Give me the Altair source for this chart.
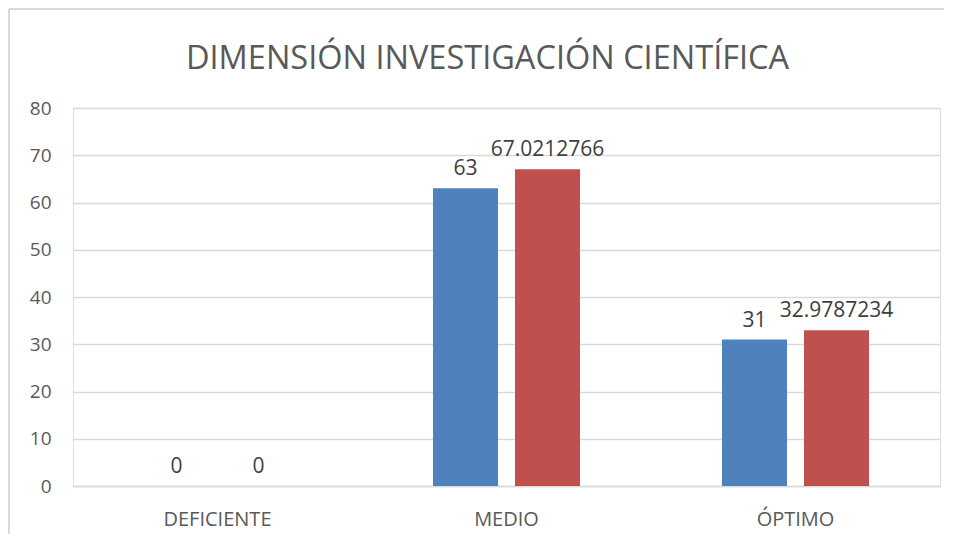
import altair as alt
import pandas as pd

categories = ["DEFICIENTE", "MEDIO", "ÓPTIMO"]
series_names = ["Frecuencia", "Porcentaje"]
freq_values = [0, 63, 31]
pct_values = [0, 67.0212766, 32.9787234]
freq_labels = ["0", "63", "31"]
pct_labels = ["0", "67.0212766", "32.9787234"]
y_ticks = [0, 10, 20, 30, 40, 50, 60, 70, 80]

rows = []
for i, c in enumerate(categories):
    rows.append({"cat": c, "serie": series_names[0], "value": freq_values[i], "label": freq_labels[i]})
    rows.append({"cat": c, "serie": series_names[1], "value": pct_values[i], "label": pct_labels[i]})
df = pd.DataFrame(rows)

W, H = 867, 378
FONT = "Open Sans"
TXT = "#595959"

x_enc = alt.X("cat:N", sort=categories, title=None,
              scale=alt.Scale(paddingInner=0, paddingOuter=0),
              axis=alt.Axis(labelAngle=0, labelFontSize=20, labelColor=TXT, labelFont=FONT,
                            ticks=False, domainColor="#d9d9d9", domainWidth=1.5,
                            labelPadding=23, labelBaseline="top"))
xo_enc = alt.XOffset("serie:N", sort=series_names,
                     scale=alt.Scale(paddingInner=0.207, paddingOuter=0.866))
y_enc = alt.Y("value:Q", title=None,
              scale=alt.Scale(domain=[0, 80], nice=False),
              axis=alt.Axis(values=y_ticks, labelFontSize=19, labelColor=TXT, labelFont=FONT,
                            ticks=False, domain=False, labelPadding=22,
                            gridColor="#d9d9d9", gridWidth=1.3))

base = alt.Chart(df)
bars = base.mark_bar().encode(
    x=x_enc, xOffset=xo_enc, y=y_enc,
    color=alt.Color("serie:N", sort=series_names, legend=None,
                    scale=alt.Scale(domain=series_names, range=["#4F81BD", "#C0504D"]))
)
texts = base.mark_text(baseline="bottom", dy=-9, fontSize=21, font=FONT, color="#404040").encode(
    x=x_enc, xOffset=xo_enc, y=y_enc, text="label:N"
)

frame_v = alt.Chart(pd.DataFrame({"a": [0]})).mark_rule(color="#d9d9d9", strokeWidth=2).encode(
    x=alt.value(-64), y=alt.value(-99), y2=alt.value(H + 48)
)
frame_h = alt.Chart(pd.DataFrame({"a": [0]})).mark_rule(color="#d9d9d9", strokeWidth=2).encode(
    x=alt.value(-64), x2=alt.value(W + 8), y=alt.value(-99)
)

chart = alt.layer(frame_v, frame_h, bars, texts).properties(
    width=W, height=H,
    title=alt.TitleParams("DIMENSIÓN INVESTIGACIÓN CIENTÍFICA", fontSize=32.5, font=FONT,
                          color=TXT, fontWeight="normal", anchor="middle", dx=-19,
                          baseline="alphabetic", offset=-93),
    padding={"left": 65, "top": 100, "right": 4, "bottom": 48},
    autosize=alt.AutoSizeParams(type="none"),
).configure_view(stroke=None).configure(background="white")

chart.save("out.html", embed_options={"renderer": "svg", "actions": False})
